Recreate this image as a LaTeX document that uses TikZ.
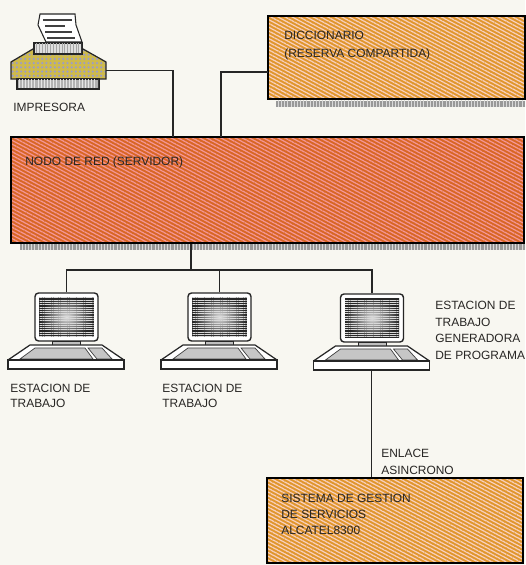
\documentclass[tikz,border=0pt]{standalone}
\usepackage{fontspec}
\setmainfont{Liberation Sans}
\usetikzlibrary{patterns.meta}
\definecolor{paperbg}{RGB}{248,247,241}
\definecolor{inkgray}{RGB}{40,38,36}
\definecolor{srvfill}{RGB}{216,102,36}
\definecolor{srvline}{RGB}{244,150,150}
\definecolor{dicfill}{RGB}{224,150,44}
\definecolor{dicline}{RGB}{248,208,190}
\definecolor{prnfill}{RGB}{206,186,76}
\tikzset{
  srvbox/.style={draw=black, line width=1.6pt, inner sep=0pt,
    preaction={fill=srvfill},
    pattern={Lines[angle=-28,distance=1.9pt,line width=.7pt]}, pattern color=srvline},
  dicbox/.style={draw=black, line width=1.6pt, inner sep=0pt,
    preaction={fill=dicfill},
    pattern={Lines[angle=-28,distance=1.9pt,line width=.7pt]}, pattern color=dicline},
  shadowbar/.style={fill=gray!80, postaction={pattern={Lines[angle=90,distance=1.8pt,line width=.45pt]}, pattern color=white!70!gray}},
  txtlabel/.style={font=\fontsize{6.8}{9.4}\selectfont, text=inkgray, align=left, inner sep=0pt, anchor=north west},
  tightlabel/.style={txtlabel, font=\fontsize{6.8}{8.2}\selectfont},
  wire/.style={draw=black!85, line width=.8pt},
  pics/workstation/.style={code={
    \node[draw=black!85, fill=white, line width=.8pt, rounded corners=2pt, inner sep=0pt,
          minimum width=1.26cm, minimum height=.96cm] (-mon) at (0,0) {};
    \shade[inner color=gray!25, outer color=black!85] (-.54,-.39) rectangle (.54,.39);
    \fill[pattern={Lines[angle=0,distance=1.3pt,line width=.25pt]}, pattern color=white!70!gray]
         (-.54,-.39) rectangle (.54,.39);
    \draw[black!85, fill=gray!50, line width=.5pt] (-.28,-.48) rectangle (.28,-.56);
    \draw[black!85, fill=white, line width=.7pt, line join=round]
         (-1.17,-.86) -- (-.73,-.56) -- (.71,-.56) -- (1.15,-.86) -- cycle;
    \draw[black!75, fill=gray!45, line width=.4pt] (-.93,-.84) -- (-.63,-.62) -- (.37,-.62) -- (.53,-.84) -- cycle;
    \draw[black!75, fill=gray!45, line width=.4pt] (.43,-.62) -- (.71,-.62) -- (.91,-.84) -- (.61,-.84) -- cycle;
    \node[draw=black!85, fill=white, line width=.8pt, inner sep=0pt,
          minimum width=2.32cm, minimum height=.18cm] (-base) at (-.01,-.95) {};
  }}
}
\begin{document}
\begin{tikzpicture}
\fill[paperbg] (0,0) rectangle (10.5,11.3);
\useasboundingbox (0,0) rectangle (10.5,11.3);
% cajas
\fill[shadowbar] (5.52,9.16) rectangle (10.5,9.28);
\fill[shadowbar] (.4,6.3) rectangle (10.5,6.42);
\node[dicbox, minimum width=5.14cm, minimum height=1.66cm] (dicc) at (7.93,10.15) {};
\node[srvbox, minimum width=10.26cm, minimum height=2.12cm] (servidor) at (5.35,7.5) {};
\node[dicbox, minimum width=5.12cm, minimum height=1.7cm] (sistema) at (7.9,.89) {};
\node[txtlabel, font=\fontsize{6.8}{10}\selectfont] (tdicc) at (5.68,10.68) {DICCIONARIO\\(RESERVA COMPARTIDA)};
\node[txtlabel] (tservidor) at (.5,8.18) {NODO DE RED (SERVIDOR)};
\node[txtlabel, font=\fontsize{6.8}{9.1}\selectfont] (tsistema) at (5.62,1.42) {SISTEMA DE GESTION\\DE SERVICIOS\\ALCATEL8300};
% impresora
\draw[black!85, fill=white, line width=.6pt] (.8,11.02) -- (1.5,11.02) -- (1.52,10.8) -- (1.64,10.46)
     -- (.92,10.46) -- (.76,10.8) -- cycle;
\draw[black!75, line width=.6pt] (.86,10.9) -- (1.44,10.9);
\draw[black!75, line width=.6pt] (.9,10.78) -- (1.3,10.78);
\draw[black!75, line width=.6pt] (.9,10.66) -- (1.44,10.66);
\draw[black!75, line width=.6pt] (.94,10.54) -- (1.5,10.54);
\draw[black!85, line width=.7pt, preaction={fill=prnfill},
     pattern={Dots[distance=2.4pt,radius=.7pt]}, pattern color=gray!70!blue!60!white]
     (.66,10.32) -- (.22,10.06) -- (.22,9.72) -- (2.12,9.72) -- (2.12,10.06) -- (1.66,10.32) -- cycle;
\draw[black!85, line width=.6pt, fill=gray!25] (.68,10.22) rectangle (1.64,10.44);
\fill[pattern={Lines[angle=90,distance=1.6pt,line width=.4pt]}, pattern color=gray!70] (.7,10.24) rectangle (1.62,10.42);
\draw[black!85, line width=.6pt, fill=gray!60] (.34,9.52) rectangle (1.98,9.72);
\fill[pattern={Lines[angle=90,distance=1.8pt,line width=.5pt]}, pattern color=white!80!gray] (.36,9.54) rectangle (1.96,9.7);
\node[inner sep=0pt, minimum width=1.9cm, minimum height=.34cm] (prn) at (1.17,9.89) {};
\node[txtlabel] (timpresora) at (.26,9.24) {IMPRESORA};
% estaciones
\pic (pca) at (1.33,4.96) {workstation};
\pic (pcb) at (4.39,4.96) {workstation};
\pic (pcc) at (7.44,4.94) {workstation};
\node[tightlabel] (testa) at (.2,3.62) {ESTACION DE\\TRABAJO};
\node[tightlabel] (testb) at (3.24,3.62) {ESTACION DE\\TRABAJO};
\node[txtlabel] (testc) at (8.7,5.28) {ESTACION DE\\TRABAJO\\GENERADORA\\DE PROGRAMA};
\node[txtlabel] (tenlace) at (7.62,2.32) {ENLACE\\ASINCRONO};
% conexiones
\coordinate (prnin) at (3.46,8.56);
\coordinate (dicin) at (4.42,8.56);
\coordinate (diccl) at (5.36,9.86);
\coordinate (bus) at (3.82,5.9);
\draw[wire] (prn.east) -| (prnin);
\draw[wire] (diccl) -| (dicin);
\draw[wire] (servidor.south -| bus) -- (bus);
\draw[wire] (pca-mon.north) |- (bus);
\draw[wire] (pcb-mon.north) -- (pcb-mon.north |- bus);
\draw[wire] (pcc-mon.north) |- (bus);
\draw[wire] (pcc-base.south) -- (pcc-base.south |- sistema.north);
\end{tikzpicture}
\end{document}
